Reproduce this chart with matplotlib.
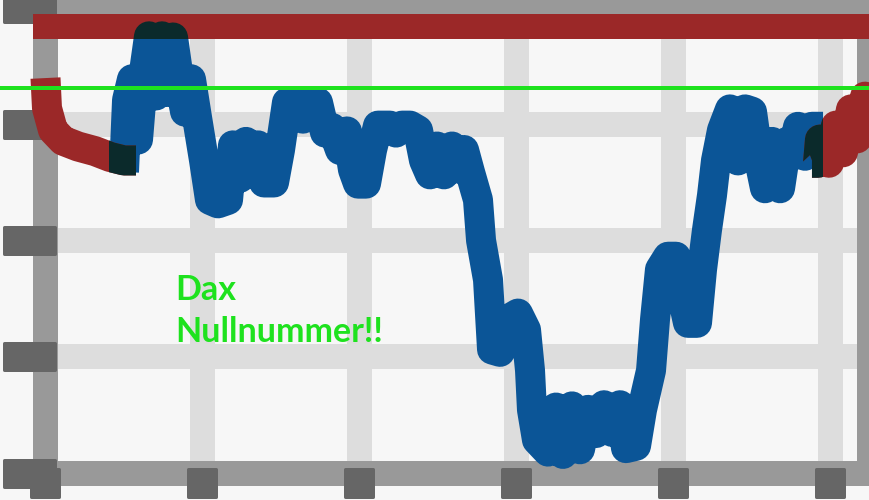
import numpy as np
import matplotlib
matplotlib.use("Agg")
import matplotlib.pyplot as plt
from matplotlib.markers import MarkerStyle
from matplotlib.path import Path
from matplotlib.patches import Rectangle

# values (no labels shown -> arbitrary units)
red_left_x = [0.0, 0.19, 0.96, 2.23, 4.14, 6.31, 8.22, 10.0, 11.53]
red_left_y = [3.40, 3.14, 2.95, 2.86, 2.81, 2.77, 2.72, 2.69, 2.69]

blue_x = [10.0, 10.39, 11.02, 11.79, 12.42, 13.19, 14.08, 14.85, 15.61, 16.25,
          17.01, 17.78, 18.54, 19.31, 20.20, 20.96, 21.98, 23.26, 23.89, 24.78,
          25.55, 26.31, 27.08, 27.84, 29.12, 29.88, 30.77, 31.92, 32.81, 33.70,
          34.72, 35.62, 36.51, 37.53, 38.42, 39.18, 39.82, 40.84, 41.61, 42.37,
          43.90, 44.66, 45.43, 46.45, 47.47, 48.23, 49.00, 49.89, 50.78, 51.80,
          52.56, 53.33, 54.09, 55.11, 55.50, 56.39, 56.90, 57.92, 58.94, 60.21,
          61.23, 61.74, 61.99, 62.63, 64.03, 65.05, 65.94, 67.09, 68.11, 69.13,
          70.15, 71.17, 72.19, 73.21, 73.97, 75.25, 76.01, 77.16, 77.67, 78.30,
          79.32, 80.34, 81.23, 81.87, 83.02, 83.66, 84.29, 84.93, 85.44, 86.20,
          87.22, 88.24, 89.14, 90.03, 90.79, 91.68, 92.58, 93.60, 94.49, 95.12,
          95.89, 96.78, 97.67, 99.08]
blue_y = [2.59, 3.21, 3.39, 2.87, 3.39, 3.76, 3.25, 3.76, 3.28, 3.75,
          3.39, 3.11, 3.39, 3.06, 2.69, 2.35, 2.32, 2.35, 2.82, 2.54,
          2.85, 2.60, 2.82, 2.50, 2.50, 2.78, 3.19, 3.20, 3.05, 3.20,
          3.19, 2.93, 2.97, 2.78, 2.94, 2.61, 2.49, 2.49, 2.78, 2.99,
          2.99, 2.93, 2.99, 2.99, 2.95, 2.69, 2.57, 2.81, 2.57, 2.81,
          2.62, 2.78, 2.59, 2.35, 2.00, 1.66, 1.06, 1.04, 1.32, 1.37,
          1.23, 0.88, 0.54, 0.28, 0.18, 0.56, 0.16, 0.57, 0.20, 0.54,
          0.34, 0.58, 0.35, 0.58, 0.21, 0.23, 0.54, 0.88, 1.32, 1.75,
          1.86, 1.86, 1.49, 1.29, 1.29, 1.75, 2.09, 2.39, 2.69, 2.95,
          3.13, 2.69, 3.13, 3.11, 2.74, 2.45, 2.85, 2.45, 2.85, 2.73,
          2.98, 2.73, 2.98, 2.98]

red_right_x = [97.67, 98.44, 98.69, 99.84, 100.73, 101.62, 102.64, 103.41, 104.43, 105.0]
red_right_y = [2.67, 2.67, 2.87, 2.67, 2.99, 2.76, 3.13, 2.88, 3.24, 3.13]

top_level = 3.845
green_level = 3.315
x_ticks = [0, 20, 40, 60, 80, 100]
y_ticks = [0, 1, 2, 3, 4]
note = "Dax\nNullnummer!!"

BG = '#f7f7f7'
GRID = '#dddddd'
SPINE = '#999999'
TICK = '#666666'
RED = '#9b2828'
BLUE = '#0b5597'
DARK = '#0b2a2b'
GREEN = '#1ee21e'

DPI = 100
PT = 72 / DPI  # points per pixel
XMAX, YMAX = 105, 4.06

fig = plt.figure(figsize=(8.7, 5.0), dpi=DPI, facecolor=BG)
ax = fig.add_axes([45.5 / 870, 27.5 / 500, 824 / 870, 471 / 500], facecolor=BG)
ax.set_xlim(0, XMAX)
ax.set_ylim(0, YMAX)
ppu_x = 824 / XMAX
ppu_y = 471 / YMAX

# grid
for xt in x_ticks:
    ax.axvline(xt, color=GRID, lw=25 * PT, solid_capstyle='butt', zorder=1)
for yt in y_ticks:
    ax.axhline(yt, color=GRID, lw=25 * PT, solid_capstyle='butt', zorder=1)

for s in ax.spines.values():
    s.set_color(SPINE)
    s.set_linewidth(25 * PT)
    s.set_zorder(2.5)

# ticks: chunky blocks
ax.set_xticks(x_ticks)
ax.set_yticks(y_ticks)
ax.tick_params(labelbottom=False, labelleft=False, top=False, right=False, length=0)
ax.xaxis.set_zorder(2.6)
ax.yaxis.set_zorder(2.6)


def block(x0, x1, y0, y1, r=1.5):
    path = Path([(x0 + r, y0 + r), (x1 - r, y0 + r), (x1 - r, y1 - r), (x0 + r, y1 - r), (x0 + r, y0 + r)],
                [Path.MOVETO, Path.LINETO, Path.LINETO, Path.LINETO, Path.CLOSEPOLY])
    size = 2 * np.abs(path.vertices).max() * PT
    return MarkerStyle(path, joinstyle='round'), size


for ticks, (m, size) in ((ax.yaxis.get_major_ticks(), block(-42.5, 11.5, -15, 15)),
                         (ax.xaxis.get_major_ticks(), block(-15.5, 15.5, -25.5, 5.5))):
    for t in ticks:
        t.tick1line.set_marker(m)
        t.tick1line.set_markersize(size)
        t.tick1line.set_markerfacecolor(TICK)
        t.tick1line.set_markeredgecolor(TICK)
        t.tick1line.set_markeredgewidth(3 * PT)

# series
kw = dict(lw=30 * PT, solid_capstyle='butt', solid_joinstyle='round')
ax.plot(blue_x, blue_y, color=BLUE, zorder=3, clip_on=False, **kw)
ax.plot(red_left_x, red_left_y, color=RED, zorder=3.1, clip_on=False, **kw)
ax.plot(red_right_x, red_right_y, color=RED, zorder=3.1, clip_on=False, **kw)
ax.axhline(top_level, color=RED, lw=25 * PT, solid_capstyle='projecting', clip_on=False, zorder=3.2)

# dark where the pieces overlap
hw = 15 / ppu_x
hb = 12.5 / ppu_y
overlaps = [
    (blue_x, blue_y, Rectangle((-10, top_level - hb), XMAX + 20, 2 * hb, transform=ax.transData)),
    (red_left_x, red_left_y, Rectangle((blue_x[0] - hw, -1), red_left_x[-1] - blue_x[0] + hw, YMAX + 2,
                                       transform=ax.transData)),
    (red_right_x, red_right_y, Rectangle((red_right_x[0] - hw, -1), blue_x[-1] - red_right_x[0] + hw, YMAX + 2,
                                         transform=ax.transData)),
]
for xs, ys, clip in overlaps:
    line, = ax.plot(xs, ys, color=DARK, zorder=3.3, **kw)
    line.set_clip_path(clip)
    line.set_clip_on(True)

ax.axhline(green_level, xmin=-0.06, xmax=1, color=GREEN, lw=4 * PT, clip_on=False, zorder=4)

ax.text(16.5, 1.125, note, color=GREEN, fontsize=24.5, fontweight='bold', family=['Lato', 'DejaVu Sans'],
        ha='left', va='baseline', linespacing=1.385, zorder=5)

fig.savefig('out.png', dpi=DPI, facecolor=BG)
